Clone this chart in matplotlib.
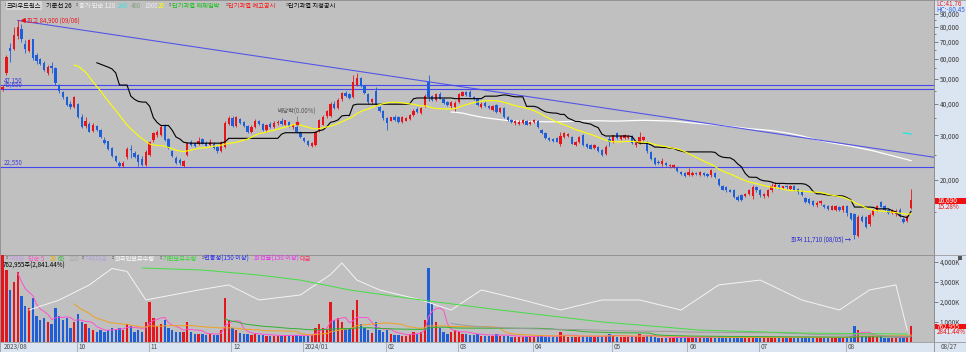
import numpy as np
import pandas as pd
import matplotlib
matplotlib.use("Agg")
import matplotlib.pyplot as plt
from matplotlib.patches import Rectangle
from matplotlib.ticker import FixedLocator, FuncFormatter, NullFormatter

plt.rcParams['font.family'] = ['Noto Sans CJK KR', 'DejaVu Sans']

W, H = 966, 352

# daily candles, 2023/08/31 .. 2024/08/27
opens = [45700, 52700, 66000, 65300, 74000, 78500, 68600, 64300, 71500, 62000,
         59800, 57800, 52800, 56000, 55000, 47300, 44400, 42400, 40000, 38800,
         40000, 35500, 32500, 33200, 31300, 32600, 31500, 28700, 28400, 26700,
         24800, 23400, 22700, 24600, 26500, 25500, 25100, 24200, 23000, 25000,
         28700, 30000, 30100, 32700, 29000, 26000, 24400, 24000, 22700, 25100,
         28300, 27900, 27700, 29000, 28000, 27500, 27800, 26900, 26100, 27000,
         33300, 35200, 32500, 34800, 33800, 32600, 30900, 32400, 34000, 33200,
         31400, 33200, 32200, 33400, 34200, 33000, 33800, 32300, 32400, 30900,
         29300, 28500, 27300, 27500, 31500, 33000, 35600, 35600, 40000, 38500,
         41500, 44000, 43500, 42500, 47500, 50500, 47000, 43600, 40500, 45000,
         38600, 37400, 35000, 34200, 35500, 35300, 33800, 34200, 34800, 36000,
         38200, 36600, 39000, 48500, 42800, 41300, 43500, 41800, 40500, 39000,
         38800, 40500, 43000, 44500, 44500, 42500, 41500, 38900, 40300, 39000,
         37800, 39600, 37000, 38300, 35500, 34400, 33400, 33300, 33400, 34200,
         33300, 33800, 34200, 31500, 30500, 29300, 29000, 29300, 27800, 29600,
         29800, 29600, 27500, 28300, 30000, 27800, 27400, 26800, 27000, 26200,
         25400, 29000, 28300, 30500, 29000, 29300, 29200, 29600, 27400, 28000,
         28800, 28300, 25800, 24400, 23600, 23100, 23300, 22700, 22600, 22600,
         21500, 21300, 20900, 20900, 21400, 21000, 21400, 21100, 21000, 21400,
         20100, 19000, 18800, 18200, 18200, 17200, 17500, 17300, 17600, 17300,
         18800, 18200, 17300, 17300, 18200, 18800, 19200, 18600, 18900, 18500,
         18900, 18400, 18000, 17000, 16800, 16500, 15900, 16200, 15900, 15800,
         15300, 15300, 15600, 15200, 15800, 14800, 14700, 12000, 14300, 14300,
         13400, 14600, 15300, 16400, 15800, 15300, 14900, 14700, 15300, 14100,
         13800, 15500]
highs = [47150, 62000, 69500, 79900, 84900, 82000, 71000, 72000, 72000, 63000,
         60500, 59000, 56500, 58500, 55500, 47800, 44800, 42800, 41000, 43000,
         40200, 36500, 35500, 33800, 33400, 33000, 31800, 29500, 28600, 27000,
         25200, 23700, 23800, 26900, 27500, 26000, 25300, 24800, 26300, 28600,
         31000, 31500, 33000, 33300, 29300, 26300, 24800, 24500, 24000, 28300,
         28700, 28200, 29500, 29300, 28400, 29000, 28100, 27200, 28500, 34000,
         35800, 35800, 35800, 35200, 34200, 33000, 32800, 34800, 34500, 33500,
         33300, 33800, 34000, 34300, 35000, 34600, 34000, 33200, 32800, 31200,
         29500, 28700, 28300, 31200, 34800, 36000, 37800, 40500, 41000, 42000,
         44500, 44800, 44000, 51800, 52500, 51000, 47500, 44000, 42000, 46500,
         39000, 37800, 35500, 35400, 36000, 35600, 35800, 35500, 36500, 38000,
         38600, 38800, 43500, 52000, 43200, 44000, 44200, 42200, 40800, 41000,
         41000, 43800, 45000, 45000, 45200, 42800, 41800, 40500, 40800, 39300,
         39500, 40000, 38800, 38600, 35800, 34700, 34300, 34300, 34700, 34500,
         34200, 34800, 34500, 31800, 30800, 29600, 29300, 29600, 31000, 31000,
         30700, 29900, 28500, 29800, 30300, 28000, 27600, 27800, 27300, 26400,
         27500, 29800, 30200, 30800, 30200, 30300, 30000, 30000, 28500, 31000,
         29800, 28600, 26000, 24600, 24000, 24500, 23600, 23200, 23100, 22800,
         21700, 21500, 22300, 21700, 21600, 21800, 21600, 21300, 22200, 21600,
         20300, 19200, 19000, 18400, 18400, 17400, 17700, 17800, 18400, 19100,
         19000, 18400, 17800, 18400, 19400, 19600, 19500, 19000, 19100, 19100,
         19100, 18600, 18200, 17200, 17000, 16700, 16500, 16700, 16100, 16000,
         15900, 15900, 15800, 16000, 16000, 14900, 14800, 14600, 14600, 14500,
         14800, 15400, 15900, 16600, 16000, 15500, 15400, 15400, 15500, 14300,
         14600, 18400]
lows = [44800, 52000, 58000, 64800, 72000, 70000, 63000, 63500, 59500, 57000,
        56500, 53500, 52000, 52500, 47500, 44000, 41500, 39000, 38200, 38500,
        35000, 32000, 32000, 30800, 30800, 31300, 29300, 27700, 26300, 24600,
        23600, 22550, 22550, 24300, 24500, 24400, 22700, 22800, 22800, 24800,
        28200, 29500, 29800, 28500, 26500, 24700, 23100, 23000, 22550, 24800,
        27200, 27000, 27400, 27600, 27100, 27200, 26600, 25600, 25800, 26800,
        33000, 32300, 32300, 33300, 32400, 30500, 30500, 32000, 32800, 31300,
        31000, 32000, 32000, 32800, 33000, 32800, 32200, 31800, 30500, 29200,
        28300, 27200, 27000, 27300, 31000, 32800, 35000, 35300, 38000, 38000,
        41000, 42500, 41800, 42000, 47000, 46500, 43500, 40000, 40000, 39000,
        37000, 34600, 31600, 34000, 34200, 33500, 33500, 34000, 34500, 35800,
        36600, 36300, 38800, 41000, 41000, 41000, 41500, 40000, 39000, 38500,
        37500, 40200, 42800, 42800, 42300, 41200, 39000, 38500, 38700, 37900,
        37500, 36800, 36800, 35200, 34200, 33500, 33000, 33000, 33200, 32800,
        33000, 33500, 32000, 30300, 29000, 28500, 28200, 28100, 27300, 29300,
        29500, 27600, 27200, 28000, 27300, 26800, 26400, 26500, 25700, 24800,
        25100, 27200, 28000, 29000, 28800, 29000, 29000, 27600, 27000, 27800,
        28500, 25600, 24000, 22900, 23100, 22700, 22700, 22400, 22300, 21500,
        21000, 20600, 20700, 20700, 21000, 20800, 20700, 20600, 20600, 20400,
        18900, 18200, 18000, 17900, 17000, 16500, 16600, 17100, 17400, 16900,
        18000, 17100, 17000, 17100, 18000, 18600, 18400, 18400, 18500, 18300,
        18100, 17700, 17300, 16300, 16100, 15800, 15700, 16000, 15500, 15300,
        15200, 15100, 15100, 15000, 14500, 13900, 11710, 11900, 13700, 12900,
        13200, 14400, 15100, 15600, 15100, 14700, 14700, 14500, 14300, 13500,
        13700, 15400]
closes = [46500, 60700, 64500, 74400, 80000, 72000, 65500, 71100, 60500, 58700,
          57300, 54200, 55800, 55000, 48100, 44800, 42400, 39500, 38700, 42600,
          35500, 32400, 34200, 31000, 33000, 31600, 29500, 27900, 26500, 24800,
          23800, 22700, 23400, 26500, 26200, 24600, 23500, 23000, 25800, 28300,
          30500, 31000, 32400, 28700, 26800, 24900, 23300, 23400, 23800, 28000,
          27400, 27300, 28500, 27800, 27300, 28300, 26800, 25900, 28200, 33500,
          35200, 32700, 35500, 33600, 32600, 30800, 32400, 34200, 33200, 31600,
          32800, 32400, 33600, 33900, 33300, 34300, 32500, 32800, 31000, 29400,
          28600, 27500, 27900, 30800, 34400, 35500, 37400, 40000, 38500, 41300,
          43800, 43000, 42200, 48500, 50500, 47000, 44000, 40500, 41500, 39600,
          37300, 35000, 33600, 35300, 34600, 33800, 35300, 35000, 36200, 37500,
          37000, 38500, 43000, 42500, 41300, 43500, 41800, 40300, 39300, 40600,
          40200, 43500, 44500, 43200, 42500, 41500, 39300, 40000, 39000, 38300,
          39000, 37100, 38300, 35500, 34400, 33900, 34000, 33900, 34400, 33000,
          33900, 34400, 32200, 30500, 29300, 28700, 28400, 28300, 29800, 30500,
          30300, 27800, 28300, 29400, 27400, 27000, 26600, 27500, 25900, 25100,
          27000, 28200, 30000, 29300, 29800, 30000, 29700, 28000, 28100, 29500,
          29600, 26000, 24200, 23100, 23300, 23800, 22900, 22900, 22900, 21800,
          21200, 20800, 21500, 21400, 21100, 21500, 20900, 20800, 21900, 20500,
          19100, 18300, 18200, 18000, 17200, 16700, 16700, 17600, 18200, 18800,
          18300, 17500, 17600, 18300, 19000, 19200, 18700, 18900, 18700, 18900,
          18300, 17900, 17500, 16400, 16300, 15900, 16300, 16500, 15600, 15400,
          15800, 15800, 15200, 15800, 14800, 14100, 12100, 14300, 13800, 13100,
          14600, 15200, 15800, 15700, 15300, 14900, 15200, 15100, 14500, 13700,
          14480, 16690]
# volume, thousand shares
volumes = [4400, 3600, 2600, 3000, 3500, 2300, 1800, 1700, 2200, 1300,
           1100, 1200, 1000, 900, 1700, 1300, 1100, 1200, 700, 1000,
           1400, 1000, 900, 700, 600, 500, 600, 500, 600, 700,
           600, 700, 600, 900, 800, 500, 600, 500, 1000, 2000,
           1200, 800, 900, 1100, 700, 600, 500, 500, 500, 1000,
           500, 400, 400, 400, 350, 400, 350, 350, 600, 2200,
           1100, 700, 600, 450, 400, 400, 350, 400, 350, 350,
           300, 300, 300, 300, 300, 300, 300, 300, 350, 300,
           300, 300, 350, 700, 900, 700, 600, 2000, 1100, 1200,
           1000, 700, 700, 1600, 2100, 900, 700, 600, 450, 1000,
           600, 500, 600, 400, 350, 350, 300, 300, 400, 500,
           400, 500, 1100, 3700, 1900, 1000, 700, 500, 400, 500,
           600, 500, 400, 400, 350, 350, 400, 300, 300, 300,
           300, 400, 300, 300, 300, 250, 250, 250, 250, 250,
           250, 250, 300, 300, 250, 250, 250, 250, 500, 300,
           250, 250, 250, 250, 300, 250, 250, 250, 250, 250,
           300, 400, 300, 250, 250, 250, 250, 250, 250, 400,
           250, 300, 300, 250, 200, 200, 200, 200, 200, 200,
           200, 200, 220, 200, 200, 200, 200, 200, 250, 200,
           250, 200, 200, 200, 200, 200, 200, 200, 200, 250,
           200, 200, 200, 200, 250, 200, 200, 200, 200, 200,
           200, 200, 200, 250, 200, 200, 200, 200, 200, 200,
           200, 200, 200, 200, 250, 300, 800, 600, 300, 300,
           300, 300, 250, 300, 200, 200, 200, 200, 200, 200,
           250, 763]

# holdings lines (thousand shares)
fgn_idx = [7, 15, 23, 29, 33, 38, 45, 52, 60, 68, 79, 87, 90, 94, 100, 111, 119,
           127, 138, 148, 159, 169, 180, 190, 201, 212, 222, 230, 237, 240]
fgn_hold = [182, 240, 327, 422, 405, 240, 269, 298, 327, 240, 269, 387, 454, 355,
            298, 240, 182, 298, 240, 182, 240, 240, 182, 327, 355, 240, 182, 298, 327, 66]
inst_idx = [37, 53, 68, 79, 92, 111, 132, 159, 185, 212, 240]
inst_hold = [425, 413, 384, 355, 298, 240, 182, 113, 66, 49, 43]

month_idx = [0, 20, 39, 61, 80, 102, 121, 141, 162, 182, 201, 224]
month_lbl = ['2023/08', '10', '11', '12', '2024/01', '02', '03', '04', '05', '06', '07', '08']

hline_vals = [47150, 45650, 22550]
trend_x = [4, 247]
trend_y = [84900, 24600]

RED = '#e8141c'
BLUE = '#1e5ed8'

fig = plt.figure(figsize=(W / 100, H / 100), dpi=100)
fig.patch.set_facecolor('#c0c0c0')


def fx(px):
    return px / W


def fy(py):
    return 1 - py / H


def txt(px, py, s, color='black', size=4.5, **kw):
    fig.text(fx(px), fy(py), s, color=color, fontsize=size, va='center', ha=kw.pop('ha', 'left'), **kw)


PR = 934
strip = fig.add_axes([fx(PR), 0, 1 - fx(PR), 1])
strip.set_facecolor('#dbe5f1')
strip.set_xticks([])
strip.set_yticks([])
for s in strip.spines.values():
    s.set_color('#9a9a9a')
    s.set_linewidth(0.6)

ax = fig.add_axes([0, fy(255), fx(PR), 255 / H])
axv = fig.add_axes([0, fy(341.5), fx(PR), 86.5 / H], sharex=ax)
axh = axv.twinx()
axb = fig.add_axes([0, 0, fx(PR), 10.5 / H])

o = np.array(opens, float)
hi = np.array(highs, float)
lo = np.array(lows, float)
c = np.array(closes, float)
n = len(c)
x = np.arange(n)
cols = np.where(c >= o, RED, BLUE)

for a in (ax, axv):
    a.set_facecolor('#c0c0c0')
    for s in a.spines.values():
        s.set_color('#8c8c8c')
        s.set_linewidth(0.6)

# price panel
ax.vlines(x, lo, hi, colors=cols, linewidth=0.6, zorder=3)
ax.bar(x, np.abs(c - o), bottom=np.minimum(o, c), width=0.62, color=cols, linewidth=0, zorder=3)

sc = pd.Series(c)
kijun = (pd.Series(hi).rolling(26).max() + pd.Series(lo).rolling(26).min()) / 2
ax.plot(x, kijun, color='black', lw=0.8, zorder=4)
ax.plot(x, sc.rolling(20).mean(), color='#ffff00', lw=0.8, zorder=4)
ax.plot(x, sc.rolling(120).mean(), color='white', lw=0.9, zorder=2)
ax.plot(x, sc.rolling(240).mean(), color='#19e6e6', lw=0.9, zorder=2)
ax.plot(trend_x, trend_y, color='#5555e8', lw=0.8, zorder=2)
for v in hline_vals:
    ax.axhline(v, color='#4646ee', lw=0.8, zorder=2)
    ax.text(0.3, v * 1.004, f'{v:,}', color='#3c3cdc', fontsize=4.4, va='bottom', ha='left')

ax.set_yscale('log')
ax.set_ylim(10140, 102160)
ax.set_xlim(-0.7, 247.1)
ax.yaxis.tick_right()
ax.yaxis.set_major_locator(FixedLocator([20000, 30000, 40000, 50000, 60000, 70000, 80000, 90000]))
ax.yaxis.set_major_formatter(FuncFormatter(lambda v, p: f'{v:,.0f}'))
ax.yaxis.set_minor_locator(FixedLocator([15000, 25000, 35000, 45000, 55000, 65000, 75000, 85000]))
ax.yaxis.set_minor_formatter(NullFormatter())
ax.tick_params(axis='y', which='major', direction='out', length=3, width=0.5,
               colors='#555555', labelsize=4.6, pad=1, labelcolor='#3a3a3a')
ax.tick_params(axis='y', which='minor', direction='out', length=1.5, width=0.5, colors='#555555')
ax.tick_params(axis='x', which='both', bottom=False, labelbottom=False)

# high / low / dividend marks
ax.plot(5.3, 84900, marker='<', ms=2.6, color=RED, zorder=5)
ax.text(6.5, 84900, '최고 84,900 (09/06)', color=RED, fontsize=4.4, va='center')
ax.text(225.2, 11710, '최저 11,710 (08/05) →', color='#2424d2', fontsize=4.4, va='center', ha='right')
ax.vlines(78, 33600, 35600, color='#777777', lw=0.5, zorder=5)
ax.plot(78, 33500, marker='s', ms=1.6, color=RED, zorder=5)
ax.text(78, 35700, '배당락(0.00%)', color='#555555', fontsize=4.4, va='bottom', ha='center')

# volume panel
axv.bar(x, volumes, width=0.62, color=cols, linewidth=0, zorder=3)
sv = pd.Series(volumes, dtype=float)
axv.plot(x, sv.rolling(5).mean(), color='#ff50d0', lw=0.7, zorder=4)
axv.plot(x, sv.rolling(20).mean(), color='#f0a020', lw=0.7, zorder=4)
axv.plot(x, sv.rolling(60).mean(), color='#30b030', lw=0.7, zorder=4)
axv.plot(x, sv.rolling(120).mean(), color='#9a9a9a', lw=0.7, zorder=4)
axv.set_ylim(0, 4325)
axv.yaxis.set_major_locator(FixedLocator([1000, 2000, 3000, 4000]))
axv.yaxis.set_major_formatter(FuncFormatter(lambda v, p: f'{v:,.0f}K'))
axv.yaxis.tick_right()
axv.tick_params(axis='y', direction='out', length=3, width=0.5, colors='#555555',
                labelsize=4.6, pad=1, labelcolor='#3a3a3a', left=False, labelleft=False,
                right=True, labelright=True)
axv.tick_params(axis='x', which='both', bottom=False, labelbottom=False)

axh.set_ylim(0, 500)
axh.plot(fgn_idx, fgn_hold, color='#f4f4f4', lw=0.7)
axh.plot(inst_idx, inst_hold, color='#44dd44', lw=0.7)
axh.set_yticks([])
axh.tick_params(axis='both', which='both', left=False, right=False, labelleft=False,
                labelright=False, bottom=False, labelbottom=False)
for s in axh.spines.values():
    s.set_visible(False)

# date strip
axb.set_facecolor('#dbe5f1')
axb.set_xlim(-0.7, 247.1)
axb.set_ylim(0, 1)
axb.set_xticks([])
axb.set_yticks([])
for s in axb.spines.values():
    s.set_color('#9a9a9a')
    s.set_linewidth(0.6)
for mi, ml in zip(month_idx, month_lbl):
    if mi > 0:
        axb.axvline(mi - 0.3, color='#a8a8a8', lw=0.6)
    axb.text(mi + 0.2, 0.45, ml, fontsize=4.6, color='#4a4a4a', va='center', ha='left')

# legends
top_items = [(2.5, '▫', '#6e6e6e'), (7, '크라우드웍스', 'black'), (46, '기준선 26', 'black'),
             (73.5, '▫', '#6e6e6e'), (79, '종가 단순 120', '#f2f2f2'), (118, '240', '#3ee0e0'),
             (131, '480', '#7fa07f'), (144, '1000', '#eeeeee'), (158, '20', '#ffff00'),
             (166.5, '▫', '#6e6e6e'), (172, '단기과열 해제임박', '#10c010'),
             (223.5, '▫', '#6e6e6e'), (228, '단기과열 예고공시', '#ff1010'),
             (283.5, '▫', '#6e6e6e'), (288, '단기과열 지정공시', 'black')]
for px, s, col in top_items:
    if s == '크라우드웍스':
        txt(px, 5.5, s, col, bbox=dict(facecolor='#d6d6d6', edgecolor='none', pad=0.6))
    else:
        txt(px, 5.5, s, col)

low_items = [(3.5, '▫', '#6e6e6e'), (8, '거래량', '#c49ae6'), (28, '단순 5', '#ff55cc'),
             (50, '20', '#e8b000'), (58, '60', '#38b838'), (68, '120', '#a8a8a8'),
             (80, '▫', '#6e6e6e'), (85, '거래대금', '#b4a4d8'), (110, '▫', '#6e6e6e'),
             (115, '외국인보유수량', '#ffffff'), (158, '▫', '#6e6e6e'), (163, '기관보유수량', '#2ed62e'),
             (199.5, '▫', '#6e6e6e'), (204, '변동성(150 이상)', '#2c2cf0'),
             (254, '회전율(150 이상)', '#f02cf0'), (300, '대금', '#ff2c60')]
for px, s, col in low_items:
    txt(px, 258.7, s, col)
txt(3, 266, '762,955주(2,841.44%)', 'black')

# right strip labels
txt(936, 4.2, 'LC:41.76', '#e82020', size=4.6)
txt(936, 10.2, 'HC:-80.45', '#2a5ee0', size=4.6)
fig.patches.append(Rectangle((fx(935), fy(203.5)), fx(31), 6 / H, transform=fig.transFigure,
                             facecolor='#ee1010', edgecolor='none'))
txt(937, 200.5, '16,690', 'white', size=4.6)
txt(937, 206.8, '15.28%', '#ee1010', size=4.6)
fig.patches.append(Rectangle((fx(935), fy(329)), fx(31), 5 / H, transform=fig.transFigure,
                             facecolor='#ee1010', edgecolor='none'))
txt(937, 326.5, '762,955', 'white', size=4.6)
txt(937, 331.5, '2841.44%', '#ee1010', size=4.6)
fig.patches.append(Rectangle((fx(958), fy(260)), fx(4), 4 / H, transform=fig.transFigure,
                             facecolor='#555555', edgecolor='none'))
txt(941, 347, '08/27', '#4a4a4a', size=4.6)
fig.lines.append(plt.Line2D([fx(PR), 1], [fy(341.5), fy(341.5)], transform=fig.transFigure,
                            color='#9a9a9a', lw=0.6))
fig.lines.append(plt.Line2D([fx(PR), 1], [fy(255), fy(255)], transform=fig.transFigure,
                            color='#9a9a9a', lw=0.6))

fig.savefig('out.png', dpi=100, facecolor=fig.get_facecolor())
